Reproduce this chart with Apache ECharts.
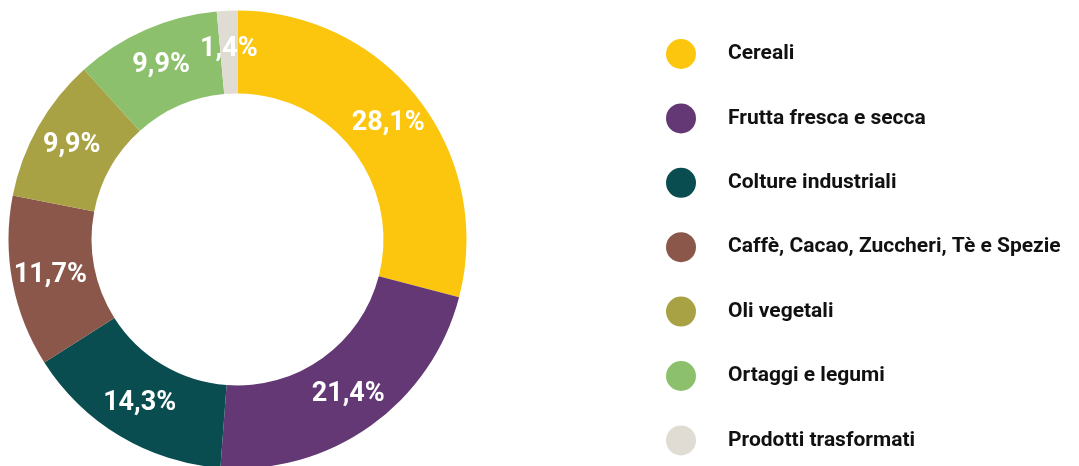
<!DOCTYPE html>
<html>
<head>
<meta charset="utf-8">
<style>
  html, body { margin: 0; padding: 0; background: #ffffff; }
  #chart { width: 1079px; height: 466px; }
</style>
<script src="https://cdn.jsdelivr.net/npm/echarts@6/dist/echarts.min.js"></script>
</head>
<body>
<div id="chart"></div>
<script>
// Quote per comparto (%)
const categories = [
  'Cereali',
  'Frutta fresca e secca',
  'Colture industriali',
  'Caffè, Cacao, Zuccheri, Tè e Spezie',
  'Oli vegetali',
  'Ortaggi e legumi',
  'Prodotti trasformati'
];
const shares = [28.1, 21.4, 14.3, 11.7, 9.9, 9.9, 1.4];
const colors = ['#FBC60D', '#633874', '#0A4D50', '#8B574A', '#A8A245', '#8CC06C', '#E1DCD3'];

const chart = echarts.init(document.getElementById('chart'), null, { renderer: 'canvas' });

const pieData = categories.map((name, i) => ({
  name: name,
  value: shares[i],
  itemStyle: { color: colors[i] }
}));

chart.setOption({
  animation: false,
  backgroundColor: '#ffffff',
  legend: {
    orient: 'vertical',
    left: 661,
    top: 34,
    icon: 'circle',
    itemWidth: 30,
    itemHeight: 30,
    itemGap: 34.4,
    selectedMode: false,
    data: categories,
    textStyle: {
      fontFamily: 'Roboto, "Noto Sans", sans-serif',
      fontSize: 21,
      fontWeight: 'bold',
      color: '#111111',
      padding: [0, 0, 0, 27]
    }
  },
  series: [{
    type: 'pie',
    center: [237.5, 239.5],
    radius: [146, 229],
    startAngle: 90,
    clockwise: true,
    avoidLabelOverlap: false,
    silent: true,
    itemStyle: { borderWidth: 0 },
    label: {
      show: true,
      position: 'inside',
      color: '#ffffff',
      fontFamily: 'Roboto, "Noto Sans", sans-serif',
      fontSize: 27,
      fontWeight: 'bold',
      formatter: p => p.value.toFixed(1).replace('.', ',') + '%'
    },
    labelLine: { show: false },
    data: pieData
  }]
});
</script>
</body>
</html>
